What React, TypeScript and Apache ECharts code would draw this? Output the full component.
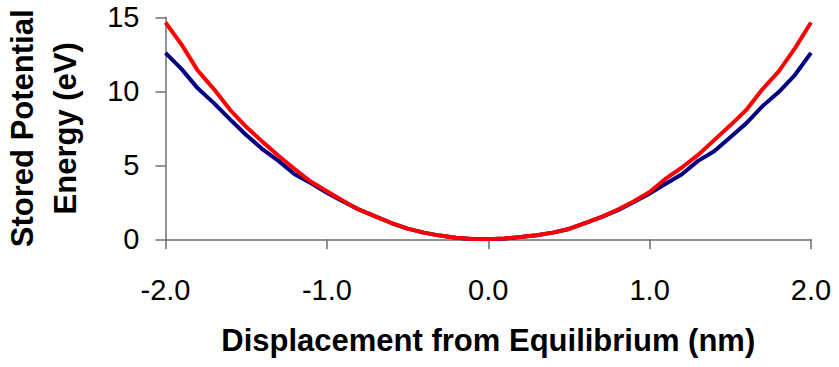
import React, { useEffect, useRef } from "react";
import * as echarts from "echarts";

// Displacement from equilibrium (nm)
const displacement = [
  -2.0, -1.9, -1.8, -1.7, -1.6, -1.5, -1.4, -1.3, -1.2, -1.1, -1.0,
  -0.9, -0.8, -0.7, -0.6, -0.5, -0.4, -0.3, -0.2, -0.1, 0.0,
  0.1, 0.2, 0.3, 0.4, 0.5, 0.6, 0.7, 0.8, 0.9, 1.0,
  1.1, 1.2, 1.3, 1.4, 1.5, 1.6, 1.7, 1.8, 1.9, 2.0,
];

// Stored potential energy (eV), harmonic curve
const harmonicEnergy = [
  12.6, 11.5, 10.2, 9.2, 8.1, 7.05, 6.1, 5.3, 4.4, 3.8, 3.15,
  2.55, 2.0, 1.55, 1.1, 0.72, 0.45, 0.25, 0.1, 0.02, 0.0,
  0.05, 0.15, 0.27, 0.45, 0.7, 1.1, 1.5, 1.95, 2.5, 3.1,
  3.75, 4.4, 5.3, 5.95, 6.9, 7.85, 9.0, 9.95, 11.1, 12.6,
];

// Stored potential energy (eV), anharmonic curve
const anharmonicEnergy = [
  14.65, 13.15, 11.4, 10.15, 8.75, 7.6, 6.6, 5.65, 4.75, 3.9, 3.25,
  2.6, 2.0, 1.55, 1.1, 0.72, 0.45, 0.25, 0.1, 0.02, 0.0,
  0.05, 0.15, 0.28, 0.45, 0.7, 1.1, 1.5, 2.0, 2.55, 3.2,
  4.1, 4.85, 5.7, 6.7, 7.7, 8.75, 10.15, 11.35, 12.9, 14.65,
];

const yTicks = [0, 5, 10, 15];
const xTicks = [-2, -1, 0, 1, 2];

const FONT = '"Liberation Sans", Arial, sans-serif';
const AXIS_COLOR = "#6e6e6e";

export default function App() {
  const ref = useRef<HTMLDivElement>(null);

  useEffect(() => {
    if (!ref.current) return;
    const chart = echarts.init(ref.current, undefined, { renderer: "svg" });

    const pairs = (ys: number[]) => displacement.map((x, i) => [x, ys[i]]);

    chart.setOption({
      animation: false,
      backgroundColor: "#ffffff",
      grid: {
        left: 165.5,
        right: 28,
        top: 17.3,
        bottom: 127.7,
        containLabel: false,
        outerBoundsMode: "none",
      },
      xAxis: {
        type: "value",
        min: xTicks[0],
        max: xTicks[xTicks.length - 1],
        interval: 1,
        name: "Displacement from Equilibrium (nm)",
        nameLocation: "middle",
        nameGap: 86,
        nameTextStyle: { fontFamily: FONT, fontSize: 31, fontWeight: "bold", color: "#000" },
        axisLine: { show: true, onZero: false, lineStyle: { color: AXIS_COLOR, width: 1.5 } },
        axisTick: { show: true, length: 10, inside: false, lineStyle: { color: AXIS_COLOR, width: 1.5 } },
        axisLabel: {
          margin: 36,
          fontFamily: FONT,
          fontSize: 29,
          color: "#000",
          formatter: (v: number) => v.toFixed(1),
        },
        splitLine: { show: false },
      },
      yAxis: {
        type: "value",
        min: yTicks[0],
        max: yTicks[yTicks.length - 1],
        interval: 5,
        name: "Stored Potential\nEnergy (eV)",
        nameLocation: "middle",
        nameRotate: 90,
        nameGap: 79,
        nameTextStyle: {
          fontFamily: FONT,
          fontSize: 31,
          fontWeight: "bold",
          color: "#000",
          lineHeight: 43,
        },
        axisLine: { show: true, onZero: false, lineStyle: { color: AXIS_COLOR, width: 1.5 } },
        axisTick: { show: true, length: 10, inside: false, lineStyle: { color: AXIS_COLOR, width: 1.5 } },
        axisLabel: { margin: 26, fontFamily: FONT, fontSize: 29, color: "#000" },
        splitLine: { show: false },
      },
      series: [
        {
          type: "line",
          name: "Harmonic",
          data: pairs(harmonicEnergy),
          showSymbol: false,
          smooth: false,
          lineStyle: { color: "#000080", width: 4 },
          itemStyle: { color: "#000080" },
          z: 2,
        },
        {
          type: "line",
          name: "Anharmonic",
          data: pairs(anharmonicEnergy),
          showSymbol: false,
          smooth: false,
          lineStyle: { color: "#ff0000", width: 4 },
          itemStyle: { color: "#ff0000" },
          z: 3,
        },
      ],
    });

    return () => chart.dispose();
  }, []);

  return (
    <div
      ref={ref}
      style={{ position: "fixed", left: 0, top: 0, width: 839, height: 367, background: "#fff" }}
    />
  );
}
